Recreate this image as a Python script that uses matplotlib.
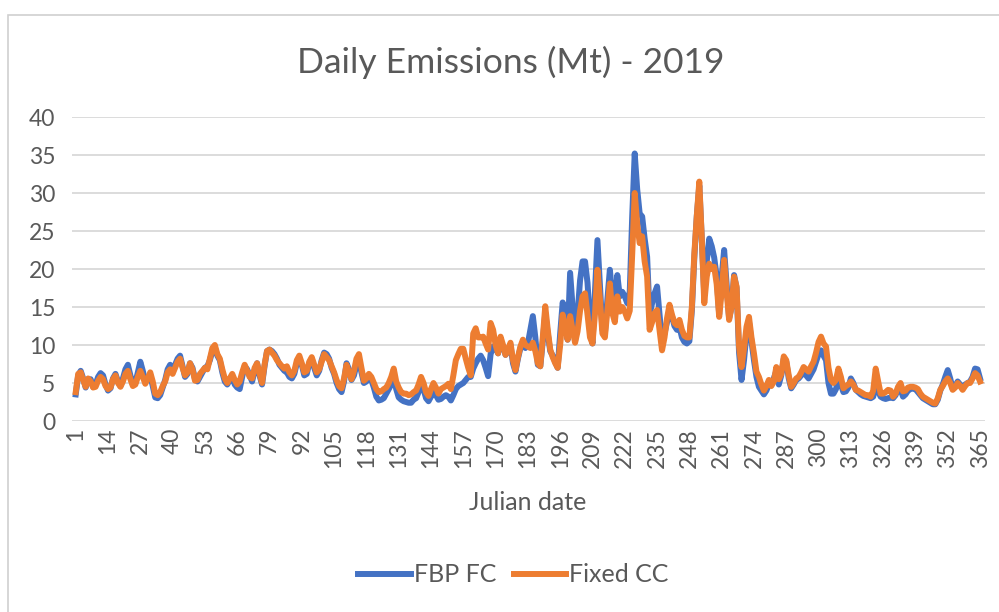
import numpy as np
import matplotlib.pyplot as plt
from matplotlib.patches import Rectangle

plt.rcParams['font.family'] = ['Lato', 'DejaVu Sans']

days = list(range(1, 366))

# daily emissions (Mt), 13 days per row
fbp_fc = [
    3.5, 6.0, 6.6, 5.6, 4.4, 5.4, 5.5, 4.5, 4.8, 5.8, 6.3, 6.0, 4.8,
    4.0, 4.3, 5.6, 6.2, 5.2, 4.6, 5.6, 6.8, 7.4, 6.0, 4.8, 5.0, 6.4,
    7.8, 6.6, 5.2, 5.6, 6.0, 4.6, 3.1, 3.0, 3.4, 4.4, 5.4, 6.8, 7.4,
    6.6, 7.4, 8.2, 8.6, 7.2, 5.8, 6.2, 7.6, 7.0, 5.5, 5.2, 5.8, 6.4,
    7.0, 7.2, 8.0, 9.2, 9.6, 8.6, 8.0, 6.4, 5.2, 4.8, 5.4, 5.8, 4.8,
    4.4, 4.2, 5.8, 7.2, 6.8, 6.0, 5.2, 6.6, 7.6, 6.0, 4.8, 7.2, 9.2,
    9.4, 9.2, 8.8, 8.2, 7.4, 7.0, 6.6, 6.4, 5.8, 5.6, 6.2, 7.6, 8.2,
    7.4, 6.0, 6.2, 7.6, 8.2, 7.0, 6.0, 6.6, 8.0, 9.0, 8.8, 8.2, 7.0,
    6.2, 5.0, 4.2, 3.8, 5.2, 7.6, 6.8, 5.4, 6.0, 7.4, 8.0, 6.4, 5.0,
    5.2, 5.8, 5.4, 4.4, 3.2, 2.7, 2.8, 3.0, 3.6, 4.2, 4.8, 5.8, 4.2,
    3.1, 2.8, 2.6, 2.5, 2.4, 2.4, 2.8, 3.0, 3.8, 5.0, 4.2, 3.0, 2.6,
    3.2, 3.8, 3.4, 2.8, 2.9, 3.2, 3.4, 3.2, 2.7, 3.4, 4.2, 4.6, 4.8,
    5.0, 5.4, 5.8, 5.8, 6.9, 7.6, 8.2, 8.6, 8.0, 7.0, 5.9, 8.8, 9.8,
    9.6, 8.9, 10.6, 9.8, 8.7, 9.2, 10.0, 7.6, 6.5, 8.2, 9.6, 10.4, 9.6,
    10.2, 12.0, 13.8, 11.0, 7.4, 7.2, 10.5, 14.2, 11.5, 9.2, 8.6, 7.8, 7.0,
    11.5, 15.6, 14.5, 10.7, 19.5, 15.0, 10.5, 14.0, 18.5, 21.0, 21.0, 18.2, 13.0,
    10.2, 17.0, 23.8, 18.0, 12.0, 11.5, 16.0, 19.9, 16.5, 15.0, 19.2, 16.4, 17.0,
    16.4, 15.5, 17.0, 27.0, 35.2, 30.5, 27.3, 26.9, 24.0, 21.6, 14.0, 15.5, 16.8,
    17.7, 14.0, 10.5, 11.5, 13.0, 14.5, 13.8, 12.5, 12.0, 12.4, 11.0, 10.4, 10.2,
    10.5, 14.5, 21.5, 27.0, 31.0, 24.0, 16.5, 21.0, 24.0, 23.0, 21.5, 19.0, 14.0,
    19.0, 22.5, 18.0, 13.5, 15.0, 19.2, 17.5, 9.0, 5.4, 8.0, 11.5, 13.0, 10.5,
    8.0, 5.8, 4.5, 4.0, 3.5, 4.0, 4.8, 5.0, 5.6, 6.6, 4.8, 6.0, 8.2,
    7.8, 5.6, 4.3, 4.8, 5.4, 5.6, 6.0, 6.4, 6.0, 5.6, 6.2, 6.8, 7.8,
    8.8, 9.3, 8.6, 8.0, 5.0, 3.6, 3.6, 4.2, 5.4, 4.8, 3.8, 3.9, 4.4,
    5.6, 5.0, 4.1, 3.8, 3.5, 3.3, 3.2, 3.1, 3.0, 3.2, 4.6, 3.9, 3.2,
    3.0, 2.9, 3.0, 3.1, 3.0, 3.4, 4.2, 4.2, 3.2, 3.5, 4.0, 4.2, 4.3,
    4.2, 3.8, 3.4, 3.0, 2.8, 2.6, 2.4, 2.2, 2.2, 2.8, 4.0, 4.8, 5.8,
    6.7, 5.6, 4.2, 4.6, 5.2, 4.8, 4.3, 4.8, 5.0, 5.2, 5.8, 6.9, 6.8, 5.6,
]

fixed_cc = [
    3.8, 6.2, 6.4, 5.4, 4.5, 5.6, 5.2, 4.4, 4.5, 5.3, 5.8, 5.5, 4.6,
    4.2, 4.4, 5.5, 6.0, 5.0, 4.5, 5.2, 6.2, 6.6, 5.5, 4.6, 4.8, 5.8,
    6.6, 5.8, 4.9, 5.6, 6.4, 5.2, 3.6, 3.4, 3.8, 4.6, 5.2, 6.4, 6.8,
    6.2, 7.0, 7.8, 8.2, 7.0, 6.0, 6.4, 7.6, 6.8, 5.3, 5.4, 6.2, 6.6,
    7.0, 6.8, 8.2, 9.6, 10.0, 8.8, 8.2, 6.8, 5.6, 5.0, 5.6, 6.2, 5.4,
    4.8, 5.2, 6.4, 7.4, 6.6, 5.8, 5.6, 7.0, 7.6, 6.2, 5.0, 7.4, 9.2,
    9.4, 9.0, 8.6, 8.0, 7.6, 7.2, 6.9, 7.2, 6.4, 6.0, 6.6, 8.0, 8.6,
    7.6, 6.4, 6.6, 7.8, 8.4, 7.4, 6.4, 6.8, 7.8, 8.8, 8.4, 8.0, 7.2,
    6.4, 5.4, 4.6, 4.3, 5.6, 7.4, 6.4, 5.5, 6.6, 8.2, 8.8, 7.0, 5.3,
    5.6, 6.2, 5.8, 5.0, 4.2, 3.8, 3.9, 4.2, 4.4, 5.0, 5.8, 6.9, 5.2,
    4.4, 3.8, 3.6, 3.6, 3.4, 3.5, 3.8, 4.0, 4.8, 5.8, 5.0, 3.8, 3.3,
    4.2, 5.0, 4.4, 3.6, 4.2, 4.4, 4.6, 4.9, 4.2, 6.0, 8.0, 8.8, 9.5,
    9.5, 8.2, 7.0, 6.0, 11.5, 12.2, 11.0, 11.0, 11.1, 10.2, 9.4, 12.9, 12.0,
    10.0, 8.9, 11.1, 10.0, 8.7, 9.4, 10.3, 8.0, 6.7, 8.4, 9.8, 10.7, 10.0,
    9.8, 9.6, 10.3, 9.2, 7.6, 7.2, 11.0, 15.1, 12.0, 9.4, 8.4, 7.6, 7.0,
    10.0, 14.0, 12.6, 10.7, 13.8, 12.0, 10.3, 11.8, 14.5, 16.4, 16.8, 14.0, 11.0,
    10.2, 14.0, 19.9, 16.0, 11.5, 11.0, 14.5, 18.1, 14.2, 13.0, 16.4, 14.4, 15.0,
    14.4, 13.5, 14.5, 22.0, 30.0, 26.0, 23.4, 24.3, 21.0, 19.0, 12.0, 13.0, 14.2,
    14.6, 12.0, 9.3, 11.0, 13.5, 15.3, 14.0, 12.9, 12.6, 13.3, 12.0, 11.2, 11.0,
    11.0, 15.0, 22.0, 27.0, 31.5, 24.0, 15.5, 19.0, 20.7, 20.0, 20.3, 18.0, 13.7,
    17.0, 21.2, 17.0, 13.3, 15.0, 19.0, 17.7, 9.8, 7.1, 9.5, 12.4, 13.7, 11.0,
    8.9, 6.5, 5.8, 4.8, 4.0, 4.6, 5.4, 4.6, 5.2, 7.1, 5.5, 6.2, 8.5,
    8.0, 6.0, 4.5, 5.0, 5.6, 5.8, 6.4, 7.1, 6.8, 6.5, 7.2, 7.8, 9.0,
    10.4, 11.1, 10.2, 9.8, 7.0, 5.4, 5.0, 5.4, 6.9, 5.8, 4.3, 4.6, 4.8,
    5.2, 4.8, 4.1, 4.0, 3.8, 3.6, 3.4, 3.4, 3.2, 4.0, 6.9, 5.2, 3.6,
    3.6, 3.8, 4.1, 4.0, 3.2, 3.6, 4.5, 5.0, 3.9, 4.0, 4.4, 4.5, 4.5,
    4.4, 4.2, 3.6, 3.2, 3.0, 2.8, 2.6, 2.4, 2.3, 3.0, 4.1, 4.6, 5.2,
    5.6, 5.0, 4.1, 4.4, 5.0, 4.6, 4.1, 4.6, 5.0, 5.0, 5.6, 6.3, 6.0, 5.2,
]

y_ticks = [0, 5, 10, 15, 20, 25, 30, 35, 40]
x_ticks = list(range(1, 366, 13))

blue = '#4472C4'
orange = '#ED7D31'
txt = '#595959'
grid = '#D9D9D9'

fig = plt.figure(figsize=(9.99, 6.12), dpi=100)
fig.patches.append(Rectangle((0.008, -0.01), 1.1, 0.985, transform=fig.transFigure,
                             fill=False, edgecolor='#D0D0D0', lw=1.2))

ax = fig.add_axes([72 / 999, 1 - 421 / 612, (985 - 72) / 999, (421 - 117) / 612])
ax.plot(days, fbp_fc, color=blue, lw=4.3, label='FBP FC', solid_joinstyle='round')
ax.plot(days, fixed_cc, color=orange, lw=4.3, label='Fixed CC', solid_joinstyle='round')

ax.set_xlim(-0.5, 367)
ax.set_ylim(0, 40)
ax.set_yticks(y_ticks)
ax.set_xticks(x_ticks)
ax.set_xticklabels([str(t) for t in x_ticks], rotation=90)
ax.tick_params(axis='both', length=0, colors=txt, labelsize=16.5)
ax.tick_params(axis='y', pad=12)
ax.tick_params(axis='x', pad=5)
for s in ax.spines.values():
    s.set_visible(False)
ax.yaxis.grid(True, color=grid, lw=1.3)
ax.set_axisbelow(True)

fig.text(511 / 999, 1 - 62 / 612, 'Daily Emissions (Mt) - 2019', fontsize=25.5,
         color=txt, ha='center', va='center')
fig.text(528 / 999, 1 - 503 / 612, 'Julian date', fontsize=18, color=txt,
         ha='center', va='center')

fig.legend(loc='center', bbox_to_anchor=(0.514, 1 - 575 / 612), ncol=2, frameon=False,
           fontsize=18, labelcolor=txt, handlelength=2.1, handletextpad=0.12,
           columnspacing=0.7)

plt.savefig('out.png', dpi=100)
